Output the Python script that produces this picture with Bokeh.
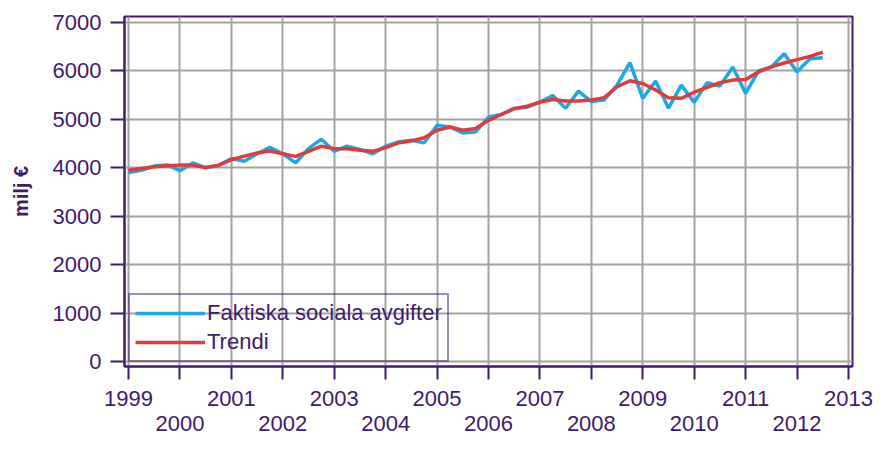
from bokeh.plotting import figure
from bokeh.models import FixedTicker, LinearAxis, Range1d
from bokeh.embed import file_html
from bokeh.resources import INLINE

# Quarterly periods 1999Q1 .. 2012Q3
years = list(range(1999, 2013))
periods = [f"{y}Q{q}" for y in years for q in range(1, 5)][:55]

actual = [3900, 3950, 4035, 4060,
          3940, 4100, 4000, 4040,
          4190, 4135, 4290, 4420,
          4290, 4100, 4395, 4590,
          4340, 4445, 4380, 4290,
          4445, 4535, 4570, 4515,
          4877, 4843, 4720, 4740,
          5048, 5100, 5230, 5250,
          5355, 5490, 5230, 5584,
          5366, 5400, 5707, 6170,
          5434, 5790, 5230, 5707,
          5350, 5755, 5686, 6082,
          5536, 6000, 6082, 6354,
          5980, 6252, 6273]

trend = [3950, 3985, 4020, 4040,
         4055, 4055, 4005, 4055,
         4170, 4240, 4305, 4345,
         4290, 4235, 4340, 4445,
         4395, 4395, 4360, 4340,
         4415, 4515, 4555, 4620,
         4775, 4843, 4775, 4810,
         4980, 5100, 5220, 5270,
         5355, 5410, 5380, 5380,
         5400, 5448, 5673, 5795,
         5740, 5605, 5448, 5434,
         5560, 5660, 5755, 5810,
         5823, 5980, 6082, 6164,
         6232, 6300, 6389]

tick_years = list(range(1999, 2014))
y_ticks = [0, 1000, 2000, 3000, 4000, 5000, 6000, 7000]

series_names = ["Faktiska sociala avgifter", "Trendi"]
y_label = "milj €"

t = [int(p[:4]) + (int(p[5]) - 1) / 4 for p in periods]

PURPLE = "#3f1a6c"
BLUE = "#1fa8e0"
RED = "#dd3b3e"
GRID = "#a3a3a3"
FONT = "Liberation Sans"
FS = "22px"

p = figure(width=874, height=434, output_backend="svg", toolbar_location=None,
           x_range=Range1d(1998.922, 2013.078), y_range=Range1d(-102, 7123),
           min_border_left=124, min_border_right=22, min_border_top=16,
           min_border_bottom=68)
p.background_fill_color = "white"
p.border_fill_color = "white"
p.outline_line_color = PURPLE
p.outline_line_width = 2

# grid
p.xgrid.ticker = FixedTicker(ticks=tick_years)
p.ygrid.ticker = FixedTicker(ticks=y_ticks)
for g in (p.xgrid, p.ygrid):
    g.grid_line_color = GRID
    g.grid_line_width = 2

# x axis row 1 (odd years)
xa = p.xaxis[0]
xa.ticker = FixedTicker(ticks=tick_years)
xa.major_label_overrides = {y: (str(y) if (y - 1999) % 2 == 0 else "") for y in tick_years}
xa.major_tick_out = 13
xa.major_tick_in = 0
xa.minor_tick_line_color = None
xa.major_tick_line_color = PURPLE
xa.major_tick_line_width = 2
xa.axis_line_color = PURPLE
xa.axis_line_width = 2
xa.major_label_text_font = FONT
xa.major_label_text_font_size = FS
xa.major_label_text_color = PURPLE
xa.major_label_standoff = 11

# x axis row 2 (even years)
xa2 = LinearAxis(ticker=FixedTicker(ticks=[y for y in tick_years if (y - 1999) % 2 == 1]))
xa2.axis_line_color = None
xa2.major_tick_line_color = None
xa2.minor_tick_line_color = None
xa2.major_tick_out = 0
xa2.major_tick_in = 0
xa2.major_label_text_font = FONT
xa2.major_label_text_font_size = FS
xa2.major_label_text_color = PURPLE
xa2.major_label_standoff = 7
p.add_layout(xa2, "below")

# y axis
ya = p.yaxis[0]
ya.ticker = FixedTicker(ticks=y_ticks)
ya.major_tick_out = 14
ya.major_tick_in = 0
ya.minor_tick_line_color = None
ya.major_tick_line_color = PURPLE
ya.major_tick_line_width = 2
ya.axis_line_color = PURPLE
ya.axis_line_width = 2
ya.major_label_text_font = FONT
ya.major_label_text_font_size = FS
ya.major_label_text_color = PURPLE
ya.major_label_standoff = 9
ya.axis_label = y_label
ya.axis_label_text_font = FONT
ya.axis_label_text_font_size = "20px"
ya.axis_label_text_font_style = "bold"
ya.axis_label_text_color = PURPLE
ya.axis_label_standoff = 18

p.line(t, actual, line_width=3.5, line_color=BLUE, legend_label=series_names[0])
p.line(t, trend, line_width=3.5, line_color=RED, legend_label=series_names[1])

lg = p.legend[0]
lg.location = (4, 4)
lg.background_fill_alpha = 0
lg.border_line_color = PURPLE
lg.border_line_width = 2
lg.label_text_font = FONT
lg.label_text_font_size = FS
lg.label_text_color = PURPLE
lg.glyph_width = 70
lg.glyph_height = 24
lg.label_height = 24
lg.label_standoff = 2
lg.spacing = 3
lg.padding = 5
lg.margin = 0

open("out.html", "w").write(file_html(p, INLINE))
